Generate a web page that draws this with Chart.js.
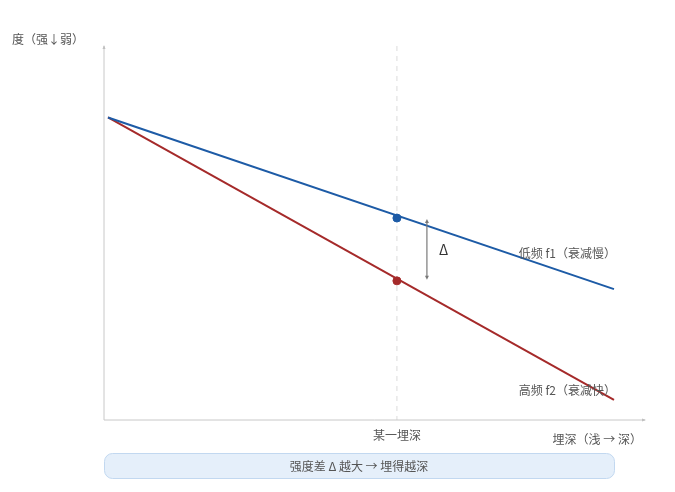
<!DOCTYPE html>
<html><head><meta charset="utf-8">
<script src="https://cdn.jsdelivr.net/npm/chart.js@4/dist/chart.umd.min.js"></script>
<style>html,body{margin:0;padding:0;background:#fff}#wrap{width:675px;height:492px}</style>
</head><body><div id="wrap"><canvas id="c" width="675" height="492"></canvas></div>
<script>
const depthPoints = [0, 1];
const lowFreqValues = [80.9, 35.0];
const highFreqValues = [80.9, 5.4];
const markDepth = 0.571;
const markLow = [54.0];
const markHigh = [37.2];
const seriesLabels = ['低频 f1（衰减慢）', '高频 f2（衰减快）'];
const tickLabels = ['某一埋深'];
const xTitle = '埋深（浅 → 深）';
const yTitle = '度（强↓弱）';
const noteText = '强度差 Δ 越大 → 埋得越深';
const deltaLabel = 'Δ';

const FONT = '"Noto Sans CJK SC", "Noto Sans", sans-serif';
const BLUE = '#1d5ba6', RED = '#a52a2a';

const overlay = {
  id: 'overlay',
  beforeDatasetsDraw(chart) {
    const {ctx, chartArea: a, scales: {x, y}} = chart;
    ctx.save();
    const mx = x.getPixelForValue(markDepth);
    ctx.strokeStyle = '#dcdcdc'; ctx.lineWidth = 1; ctx.setLineDash([5, 5]);
    ctx.beginPath(); ctx.moveTo(mx, a.top); ctx.lineTo(mx, a.bottom); ctx.stroke();
    ctx.setLineDash([]);
    ctx.strokeStyle = '#c8c8c8'; ctx.lineWidth = 1;
    ctx.beginPath(); ctx.moveTo(a.left, a.bottom); ctx.lineTo(a.left, a.top); ctx.stroke();
    ctx.beginPath(); ctx.moveTo(a.left, a.bottom); ctx.lineTo(a.right, a.bottom); ctx.stroke();
    ctx.fillStyle = '#c0c0c0';
    ctx.beginPath(); ctx.moveTo(a.left, a.top - 1); ctx.lineTo(a.left - 1.5, a.top + 3); ctx.lineTo(a.left + 1.5, a.top + 3); ctx.fill();
    ctx.beginPath(); ctx.moveTo(a.right + 1, a.bottom); ctx.lineTo(a.right - 3, a.bottom - 1.5); ctx.lineTo(a.right - 3, a.bottom + 1.5); ctx.fill();
    ctx.restore();
  },
  afterDatasetsDraw(chart) {
    const {ctx, chartArea: a, scales: {x, y}} = chart;
    ctx.save();
    const mx = x.getPixelForValue(markDepth);
    const ax = mx + 30;
    const y1 = y.getPixelForValue(markLow[0]) + 1, y2 = y.getPixelForValue(markHigh[0]) - 1;
    ctx.strokeStyle = '#7a7a7a'; ctx.fillStyle = '#7a7a7a'; ctx.lineWidth = 1.2;
    ctx.beginPath(); ctx.moveTo(ax, y1 + 2); ctx.lineTo(ax, y2 - 2); ctx.stroke();
    ctx.beginPath(); ctx.moveTo(ax, y1); ctx.lineTo(ax - 2, y1 + 4); ctx.lineTo(ax + 2, y1 + 4); ctx.fill();
    ctx.beginPath(); ctx.moveTo(ax, y2); ctx.lineTo(ax - 2, y2 - 4); ctx.lineTo(ax + 2, y2 - 4); ctx.fill();
    ctx.fillStyle = '#333'; ctx.font = '14px ' + FONT; ctx.textAlign = 'left'; ctx.textBaseline = 'middle';
    ctx.fillText(deltaLabel, ax + 12, (y1 + y2) / 2);
    ctx.fillStyle = '#555'; ctx.font = '12px ' + FONT;
    ctx.textAlign = 'right';
    ctx.fillText(seriesLabels[0], 616, 253);
    ctx.fillText(seriesLabels[1], 616, 390);
    ctx.textAlign = 'center';
    ctx.fillText(tickLabels[0], mx, 435);
    ctx.textAlign = 'right';
    ctx.fillText(xTitle, 642, 439);
    ctx.textAlign = 'left';
    ctx.fillText(yTitle, 12, 39);
    const bx = 104, by = 453, bw = 510, bh = 25, r = 8;
    ctx.beginPath();
    ctx.roundRect(bx + 0.5, by + 0.5, bw, bh, r);
    ctx.fillStyle = '#e5effa'; ctx.fill();
    ctx.strokeStyle = '#c2d8f0'; ctx.lineWidth = 1; ctx.stroke();
    ctx.fillStyle = '#555'; ctx.textAlign = 'center';
    ctx.fillText(noteText, bx + bw / 2, by + bh / 2 + 1);
    ctx.restore();
  }
};

new Chart(document.getElementById('c'), {
  type: 'scatter',
  data: {
    datasets: [
      { data: depthPoints.map((d, i) => ({x: d, y: lowFreqValues[i]})), showLine: true, borderColor: BLUE, borderWidth: 2, pointRadius: 0 },
      { data: depthPoints.map((d, i) => ({x: d, y: highFreqValues[i]})), showLine: true, borderColor: RED, borderWidth: 2, pointRadius: 0 },
      { data: [{x: markDepth, y: markLow[0]}], backgroundColor: BLUE, borderColor: BLUE, pointRadius: 4 },
      { data: [{x: markDepth, y: markHigh[0]}], backgroundColor: RED, borderColor: RED, pointRadius: 4 }
    ]
  },
  options: {
    responsive: false, animation: false, devicePixelRatio: 1,
    layout: { padding: { left: 104, right: 30, top: 46, bottom: 72 } },
    plugins: { legend: { display: false }, tooltip: { enabled: false } },
    scales: {
      x: { type: 'linear', display: false, min: -0.0079, max: 1.0613 },
      y: { type: 'linear', display: false, min: 0, max: 100 }
    }
  },
  plugins: [overlay]
});
</script></body></html>
